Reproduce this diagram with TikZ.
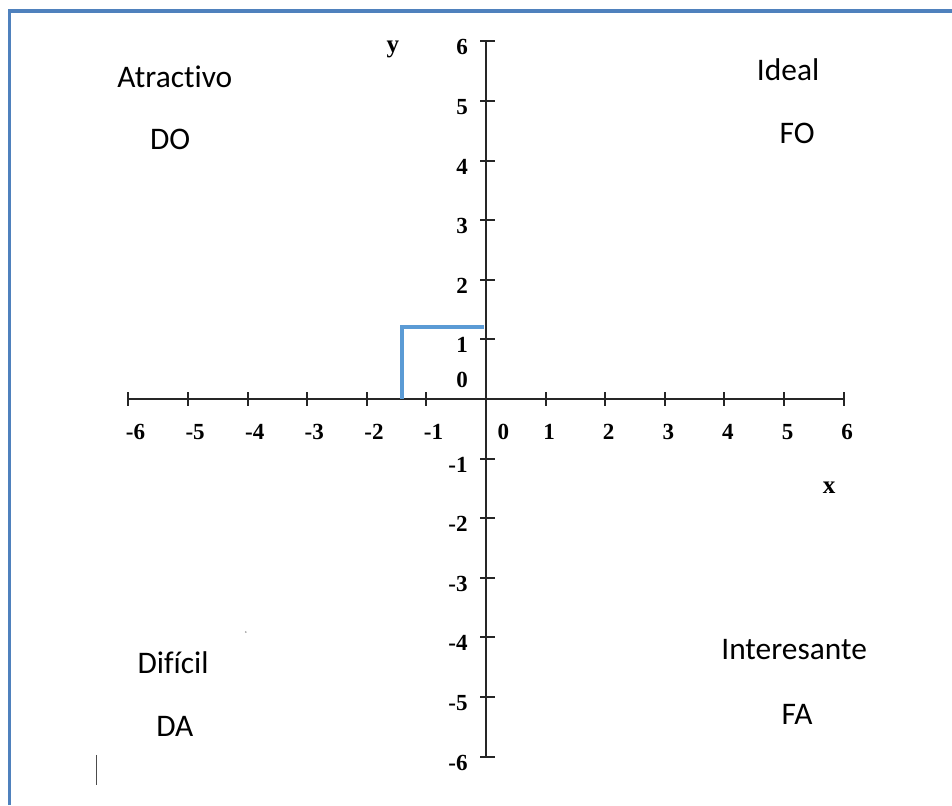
\documentclass[tikz,border=0pt]{standalone}
\usepackage{fontspec}
\setmainfont[Ligatures=NoCommon]{Carlito}
\newfontfamily\axisfont{Liberation Serif}
\usetikzlibrary{positioning}
\definecolor{frameblue}{RGB}{79,129,189}
\definecolor{pathblue}{RGB}{91,155,213}

\begin{document}
\begin{tikzpicture}[
  quad/.style={font=\fontsize{15}{18}\selectfont,inner sep=0pt},
  ticklbl/.style={font=\axisfont\bfseries\fontsize{11}{12}\selectfont,inner sep=0pt},
  axlbl/.style={font=\axisfont\bfseries\fontsize{12}{14}\selectfont,inner sep=0pt},
  axis/.style={line width=1pt,black!85},
]
\useasboundingbox (-8.154,-6.812) rectangle (7.819,6.695);

% Frame (left and top only)
\coordinate (fbot) at (-8.0,-6.812);
\coordinate (fcorner) at (-8.0,6.51);
\coordinate (fright) at (7.819,6.51);
\draw[frameblue,line width=1.5pt] (fbot) -- (fcorner) -- (fright);

% Axes
\coordinate (xmin) at (-6,0);
\coordinate (xmax) at (6,0);
\coordinate (ymin) at (0,-6);
\coordinate (ymax) at (0,6);
\draw[axis] (xmin) -- (xmax);
\draw[axis] (ymin) -- (ymax);
\foreach \i in {-6,...,6}{
  \draw[axis] (\i,-0.11) -- (\i,0.11);
  \draw[axis] (-0.1,\i) -- (0.15,\i);
}

% Tick labels on x
\foreach \i in {-6,...,-1}
  \node[ticklbl] (xn\i) at (\i+0.12,-0.55) {\i};
\node[ticklbl] (x0) at (0.29,-0.55) {0};
\foreach \i in {1,...,6}
  \node[ticklbl] (xp\i) at (\i+0.06,-0.55) {\i};

% Tick labels on y
\foreach \i in {1,...,6}
  \node[ticklbl] (yp\i) at (-0.40,\i-0.1) {\i};
\node[ticklbl] (y0) at (-0.40,0.32) {0};
\foreach \i in {-6,...,-1}
  \node[ticklbl] (yn\i) at (-0.47,\i-0.1) {\i};

\node[axlbl] (ylbl) at (-1.56,5.86) {y};
\node[axlbl] (xlbl) at (5.76,-1.48) {x};

% Position
\coordinate (p0) at (-1.41,0);
\coordinate (p1) at (-1.41,1.21);
\coordinate (p2) at (-0.03,1.21);
\draw[pathblue,line width=2pt] (p0) -- (p1) -- (p2);

% Quadrants
\node[quad] (atr) at (-5.22,5.40) {Atractivo};
\node[quad] (do)  at (-5.30,4.35) {DO};
\node[quad] (ide) at (5.07,5.52) {Ideal};
\node[quad] (fo)  at (5.22,4.46) {FO};
\node[quad] (dif) at (-5.25,-4.43) {Difícil};
\node[quad] (da)  at (-5.22,-5.50) {DA};
\node[quad] (int) at (5.17,-4.21) {Interesante};
\node[quad] (fa)  at (5.22,-5.30) {FA};

% Cursor mark
\coordinate (ctop) at (-6.53,-5.97);
\coordinate (cbot) at (-6.53,-6.48);
\draw[black!70,line width=0.6pt] (ctop) -- (cbot);
\fill[black!40] (-4.03,-3.91) circle (0.015);
\end{tikzpicture}
\end{document}
